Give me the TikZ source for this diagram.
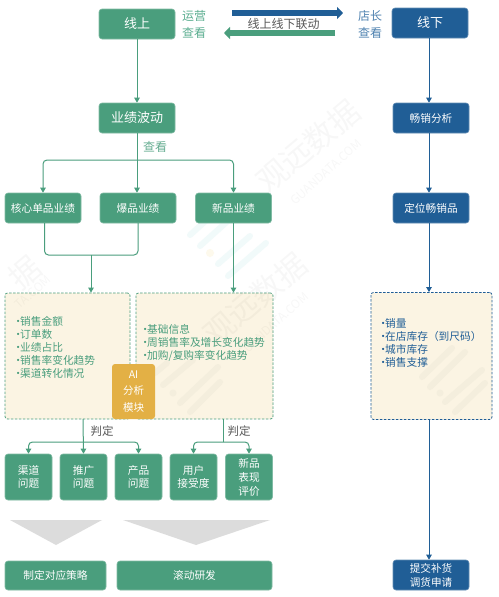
\documentclass[tikz,border=0pt]{standalone}
\usepackage{fontspec}
\setmainfont{Noto Sans CJK SC}
\usetikzlibrary{arrows.meta,positioning,calc}
\definecolor{gr}{HTML}{4A9E7D}
\definecolor{grl}{HTML}{5BAE90}
\definecolor{bl}{HTML}{205E96}
\definecolor{bll}{HTML}{4F82B0}
\definecolor{pan}{HTML}{FBF4E3}
\definecolor{gold}{HTML}{E3B045}
\definecolor{tri}{HTML}{DCDCDC}
\definecolor{dk}{HTML}{595959}
\definecolor{cy}{HTML}{F1FAFA}
\definecolor{pale}{HTML}{FDF9EC}
\definecolor{beige}{HTML}{F4EEDD}
\newcommand{\dt}{\makebox[4pt][c]{·}}
\tikzset{
 gbox/.style={fill=gr,draw=gr!70!white,line width=0.6pt,rounded corners=3pt,text=white,inner sep=0pt,align=center,font=\fontsize{10.7}{13}\selectfont},
 bbox/.style={fill=bl,draw=bl!70!white,line width=0.6pt,rounded corners=3pt,text=white,inner sep=0pt,align=center,font=\fontsize{10.7}{13}\selectfont},
 gpanel/.style={fill=pan,draw=gr,dash pattern=on 2.5pt off 1.5pt,line width=0.8pt,rounded corners=2.5pt},
 bpanel/.style={fill=pan,draw=bl,dash pattern=on 2.5pt off 1.5pt,line width=0.8pt,rounded corners=2.5pt},
 garrow/.style={draw=gr,line width=1pt,-{Triangle[width=5.5pt,length=5pt]}},
 gline/.style={draw=gr,line width=1pt,rounded corners=4pt},
 barrow/.style={draw=bl,line width=1pt,-{Triangle[width=5.5pt,length=5pt]}},
 gbig/.style={draw=gr,line width=5.5pt,-{Triangle[width=12pt,length=6pt]}},
 bbig/.style={draw=bl,line width=5.5pt,-{Triangle[width=12pt,length=6pt]}},
 glabel/.style={text=grl,inner sep=0pt,align=center,font=\fontsize{12}{16.5}\selectfont},
 blabel/.style={text=bll,inner sep=0pt,align=center,font=\fontsize{12}{16.5}\selectfont},
 dlabel/.style={text=dk,inner sep=0pt,font=\fontsize{11.5}{14}\selectfont},
 glist/.style={text=gr,inner sep=0pt,anchor=north west,align=left,font=\fontsize{10.7}{13}\selectfont},
 blist/.style={text=bl,inner sep=0pt,anchor=north west,align=left,font=\fontsize{10.7}{13}\selectfont},
 wm/.style={text=black,opacity=0.03,inner sep=0pt,rotate=40,font=\fontsize{31}{34}\selectfont},
 wms/.style={text=black,opacity=0.03,inner sep=0pt,rotate=42,font=\fontsize{12}{14}\selectfont},
}
\begin{document}
\begin{tikzpicture}[x=1pt,y=-1pt]
\useasboundingbox (0,0) rectangle (498,597);
\fill[white] (0,0) rectangle (498,597);
% pale logo stripes above the panels
\begin{scope}[line cap=round,line width=6pt,draw=cy]
\draw (190,235) -- (210,217);
\draw (200,246) -- (240,210);
\draw (218,264) -- (250,236);
\draw (228,276) -- (266,243);
\end{scope}
\fill[pale] (210,253) circle (4);
% main boxes
\node[gbox,minimum width=76pt,minimum height=30pt,font=\fontsize{13}{15}\selectfont] (on) at (137,24) {线上};
\node[bbox,minimum width=76pt,minimum height=30pt,font=\fontsize{13}{15}\selectfont] (off) at (430,23) {线下};
\node[gbox,minimum width=76pt,minimum height=30pt,font=\fontsize{13}{15}\selectfont] (perf) at (137,118) {业绩波动};
\node[bbox,minimum width=76pt,minimum height=30pt] (ana) at (431,118) {畅销分析};
\node[bbox,minimum width=76pt,minimum height=30pt] (loc) at (431,208) {定位畅销品};
\node[gbox,minimum width=76pt,minimum height=30pt] (core) at (43,208) {核心单品业绩};
\node[gbox,minimum width=76pt,minimum height=30pt] (hot) at (138,208) {爆品业绩};
\node[gbox,minimum width=76pt,minimum height=30pt] (new) at (233.5,208) {新品业绩};
% panels
\node[gpanel,minimum width=125pt,minimum height=126pt,inner sep=0pt] (lp) at (67.5,356) {};
\node[gpanel,minimum width=137pt,minimum height=126pt,inner sep=0pt] (rp) at (204.5,356) {};
\node[bpanel,minimum width=121pt,minimum height=127pt,inner sep=0pt] (bp) at (431.5,356) {};
% logo stripes inside the panels
\begin{scope}[line cap=round,line width=6pt,draw=beige]
\draw (155,373) -- (167,363);
\draw (163,385) -- (193,360);
\draw (180,403) -- (218,367);
\draw (190,412) -- (220,382);
\draw (422,377) -- (452,348);
\draw (430,387) -- (465,352);
\draw (445,402) -- (482,370);
\draw (455,412) -- (485,383);
\end{scope}
\fill[beige] (173,393) circle (3.5);
\fill[beige] (440,393) circle (3.5);
% watermarks
\node[wm] (w1) at (308,146) {观远数据};
\node[wms] (w1b) at (326,172) {GUANDATA.COM};
\node[wm] (w2) at (255,299) {观远数据};
\node[wms] (w2b) at (273,325) {GUANDATA.COM};
\node[wm] (w3) at (25,273) {据};
\node[wms] (w3b) at (33,292) {TA.COM};
% panel texts
\node[glist] (lt) at (16,316) {\dt 销售金额\\\dt 订单数\\\dt 业绩占比\\\dt 销售率变化趋势\\\dt 渠道转化情况};
\node[glist] (rt) at (143,324) {\dt 基础信息\\\dt 周销售率及增长变化趋势\\\dt 加购/复购率变化趋势};
\node[blist] (bt) at (381,318) {\dt 销量\\\dt 在店库存（到尺码）\\\dt 城市库存\\\dt 销售支撑};
\node[fill=gold,rounded corners=3pt,minimum width=43pt,minimum height=55pt,inner sep=0pt,text=white,align=center,font=\fontsize{10.5}{16.5}\selectfont] (ai) at (133.5,391.5) {AI\\分析\\模块};
% lower boxes
\node[gbox,minimum width=47pt,minimum height=46pt] (q1) at (28.5,477) {渠道\\问题};
\node[gbox,minimum width=47pt,minimum height=46pt] (q2) at (83.5,477) {推广\\问题};
\node[gbox,minimum width=47pt,minimum height=46pt] (q3) at (138.5,477) {产品\\问题};
\node[gbox,minimum width=47pt,minimum height=46pt] (q4) at (193.5,477) {用户\\接受度};
\node[gbox,minimum width=47pt,minimum height=46pt,font=\fontsize{10.7}{14}\selectfont] (q5) at (249,477) {新品\\表现\\评价};
\fill[tri] (10,520) -- (102,520) -- (56,545) -- cycle;
\fill[tri] (123,520) -- (270,520) -- (196,545) -- cycle;
\node[gbox,minimum width=101pt,minimum height=29pt] (s1) at (55.5,575.5) {制定对应策略};
\node[gbox,minimum width=155pt,minimum height=29pt] (s2) at (194.5,575.5) {滚动研发};
\node[bbox,minimum width=76pt,minimum height=30pt,font=\fontsize{10.6}{14}\selectfont] (sub) at (431,575) {提交补货\\调货申请};
% labels
\node[glabel] (l1) at (194,24.5) {运营\\查看};
\node[blabel] (l2) at (370,24.5) {店长\\查看};
\node[dlabel,font=\fontsize{12}{14}\selectfont] (l3) at (283.5,23.5) {线上线下联动};
\node[glabel,text=gr!85!white] (l4) at (155,146.5) {查看};
\node[dlabel] (l5) at (102,431) {判定};
\node[dlabel] (l6) at (239,431) {判定};
% big arrows
\coordinate (a1) at (232,13);\coordinate (a2) at (343,13);
\coordinate (b1) at (335,33);\coordinate (b2) at (224,33);
\draw[bbig] (a1) -- (a2);
\draw[gbig] (b1) -- (b2);
% connectors
\draw[garrow] (on) -- (perf);
\coordinate (bx) at (429,300);
\draw[barrow] (off.south -| bx) -- (ana.north -| bx);
\draw[barrow] (ana.south -| bx) -- (loc.north -| bx);
\draw[barrow] (loc.south -| bx) -- (bp.north -| bx);
\draw[barrow] (bp.south -| bx) -- (sub.north -| bx);
\draw[garrow] (perf.south) -- (perf.south |- hot.north);
\coordinate (br) at (137,160);
\draw[garrow,rounded corners=4pt] (br) -| (core.north);
\draw[garrow,rounded corners=4pt] (br) -| (new.north);
\coordinate (m) at (91,255);
\coordinate (ms) at (44.5,223);
\coordinate (me) at (138,223);
\draw[gline] (ms) |- (m) -| (me);
\draw[garrow] (m) -- (m |- lp.north);
\draw[garrow] (new.south) -- (new.south |- rp.north);
% judge trees
\coordinate (j1) at (83,419);\coordinate (j1m) at (83,442);
\draw[garrow] (j1) -- (q2.north);
\draw[garrow,rounded corners=4pt] (j1m) -| (q1.north);
\draw[garrow,rounded corners=4pt] (j1m) -| (q3.north);
\coordinate (j2) at (223,419);\coordinate (j2m) at (223,442);
\draw[gline] (j2) -- (j2m);
\draw[garrow,rounded corners=4pt] (j2m) -| (q4.north);
\draw[garrow,rounded corners=4pt] (j2m) -| (q5.north);
\end{tikzpicture}
\end{document}
